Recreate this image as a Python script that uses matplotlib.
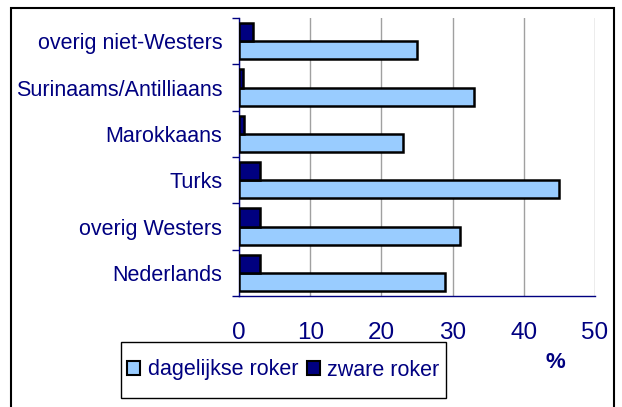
#! /usr/bin/env python3

import matplotlib
matplotlib.use("Agg")
import matplotlib.pyplot as plt
from matplotlib.patches import Rectangle, Patch

plt.rcParams['font.family'] = ['Liberation Sans', 'DejaVu Sans']

# categories from bottom to top
groups = ['Nederlands', 'overig Westers', 'Turks', 'Marokkaans',
          'Surinaams/Antilliaans', 'overig niet-Westers']
daily = [29, 31, 45, 23, 33, 25]      # dagelijkse roker
heavy = [3, 3, 3, 0.7, 0.5, 2]        # zware roker
xticks = [0, 10, 20, 30, 40, 50]

navy = '#000080'
light = '#99CCFF'

W, H = 622, 407
fig = plt.figure(figsize=(W/100, H/100), dpi=100)
ax = fig.add_axes([239/W, 1 - 296/H, (595-239)/W, (296-18)/H])

h = 0.39
ypos = list(range(len(groups)))
ax.barh([y - h/2 for y in ypos], daily, height=h, color=light,
        edgecolor='black', linewidth=1.8, zorder=3)
ax.barh([y + h/2 for y in ypos], heavy, height=h, color=navy,
        edgecolor='black', linewidth=1.8, zorder=3)

ax.set_xlim(0, 50)
ax.set_ylim(-0.5, len(groups) - 0.5)
ax.set_xticks(xticks)
ax.set_xticklabels([str(t) for t in xticks], fontsize=17.5, color=navy)
ax.set_yticks(ypos)
ax.set_yticklabels(groups, fontsize=15.5, color=navy)
ax.tick_params(axis='y', length=0, pad=12)
ax.tick_params(axis='x', length=0, pad=19)
# small ticks at category boundaries and on the x axis
ax.set_yticks([y - 0.5 for y in ypos] + [len(groups) - 0.5], minor=True)
ax.set_xticks(xticks, minor=True)
ax.tick_params(axis='y', which='minor', length=5, width=1, color=navy, direction='out')
ax.tick_params(axis='x', which='minor', length=8, width=1, color=navy, direction='out')

ax.grid(axis='x', color='#a0a0a0', linewidth=1, zorder=0)
for s in ['top', 'right']:
    ax.spines[s].set_visible(False)
for s in ['left', 'bottom']:
    ax.spines[s].set_color(navy)
    ax.spines[s].set_linewidth(1)

fig.text(555/W, 1 - 362/H, '%', fontsize=16, fontweight='bold', color=navy,
         ha='center', va='center')

# legend without own frame; box drawn separately
handles = [Patch(facecolor=light, edgecolor='black', linewidth=1.5),
           Patch(facecolor=navy, edgecolor='black', linewidth=1.5)]
leg = fig.legend(handles, ['dagelijkse roker', 'zware roker'], ncol=2,
                 loc='center', bbox_to_anchor=(283.5/W, 1 - 370/H),
                 fontsize=15.5, frameon=False,
                 handlelength=0.6, handleheight=0.6, handletextpad=0.35,
                 columnspacing=0.4, borderpad=0, borderaxespad=0)
for t in leg.get_texts():
    t.set_color(navy)
fig.patches.append(Rectangle((121/W, 1 - 398/H), (446-121)/W, 56/H,
                             transform=fig.transFigure, fill=False,
                             edgecolor='black', linewidth=1))

# outer border of the chart area
fig.patches.append(Rectangle((11/W, -0.05), (614-11)/W, 1.05 - 8/H,
                             transform=fig.transFigure, fill=False,
                             edgecolor='black', linewidth=1.5))

fig.savefig('out.png', dpi=100)
